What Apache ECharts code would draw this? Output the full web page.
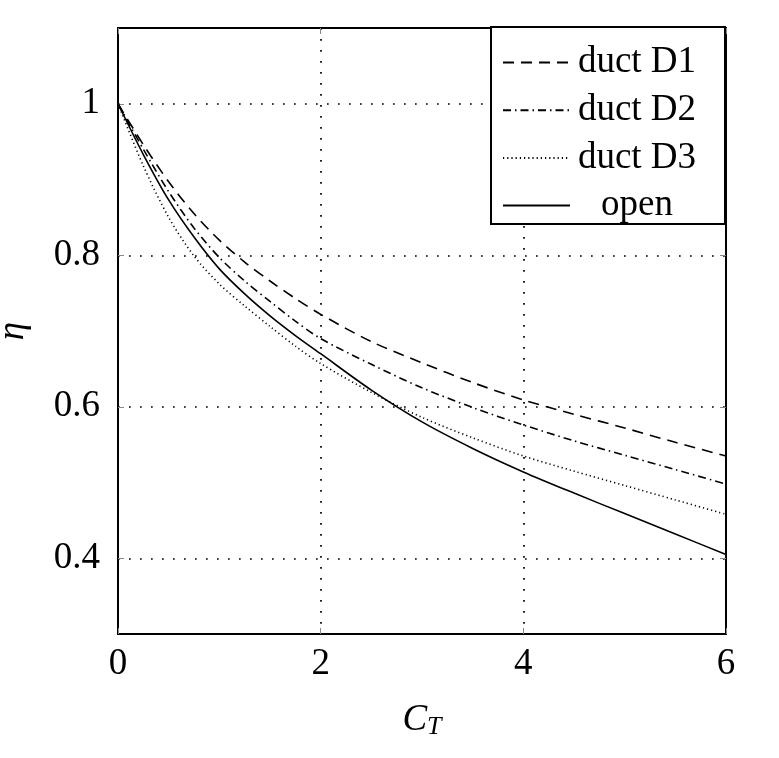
<!DOCTYPE html>
<html>
<head>
<meta charset="utf-8">
<script src="https://cdn.jsdelivr.net/npm/echarts@6.0.0/dist/echarts.min.js"></script>
<style>
html, body { margin: 0; padding: 0; background: #fff; }
#chart { width: 779px; height: 758px; }
</style>
</head>
<body>
<div id="chart"></div>
<script>
// thrust coefficient C_T and efficiency eta
var ct = [0, 0.25, 0.5, 0.75, 1, 1.25, 1.5, 1.75, 2, 2.5, 3, 3.5, 4, 4.5, 5, 5.5, 6];
var ductD1 = [1.0, 0.946, 0.897, 0.855, 0.820, 0.791, 0.766, 0.743, 0.722, 0.686, 0.658, 0.632, 0.609, 0.590, 0.572, 0.553, 0.535];
var ductD2 = [1.0, 0.940, 0.884, 0.836, 0.797, 0.766, 0.739, 0.713, 0.690, 0.656, 0.625, 0.599, 0.576, 0.555, 0.536, 0.517, 0.498];
var ductD3 = [1.0, 0.918, 0.850, 0.799, 0.762, 0.733, 0.706, 0.680, 0.657, 0.619, 0.586, 0.559, 0.535, 0.515, 0.496, 0.477, 0.458];
var openRotor = [1.0, 0.933, 0.873, 0.824, 0.782, 0.749, 0.720, 0.694, 0.670, 0.622, 0.580, 0.545, 0.514, 0.486, 0.459, 0.432, 0.405];
var yTicks = [0.4, 0.6, 0.8, 1.0];

var serif = '"Liberation Serif", "Times New Roman", serif';

function pairs(ys) {
    return ct.map(function (x, i) { return [x, ys[i]]; });
}

function line(name, ys, dash) {
    return {
        name: name,
        type: 'line',
        data: pairs(ys),
        smooth: 0.3,
        symbol: 'none',
        lineStyle: { color: '#000', width: 1.6, type: dash },
        itemStyle: { color: '#000' },
        z: 5
    };
}

var frame = { show: true, onZero: false, lineStyle: { color: '#000', width: 2 } };
var tick = { show: true, inside: true, length: 6, lineStyle: { color: '#888', width: 1 } };
var grid = { show: true, lineStyle: { color: '#000', width: 1.7, type: [1.7, 9.3] } };

var chart = echarts.init(document.getElementById('chart'));
chart.setOption({
    animation: false,
    backgroundColor: '#fff',
    grid: { left: 118, right: 53, top: 28, bottom: 124, outerBoundsMode: 'none', containLabel: false },
    xAxis: [{
        type: 'value', min: 0, max: 6, interval: 2,
        axisLine: frame,
        axisTick: tick,
        splitLine: grid,
        axisLabel: { color: '#000', fontSize: 37, fontFamily: serif, margin: 12 },
        name: '{c|C}{t|T}',
        nameLocation: 'middle',
        nameGap: 66,
        nameTextStyle: {
            rich: {
                c: { fontSize: 37, fontStyle: 'italic', fontFamily: serif, color: '#000' },
                t: { fontSize: 26, fontStyle: 'italic', fontFamily: serif, color: '#000', padding: [14, 0, 0, 0] }
            }
        }
    }, {
        type: 'value', min: 0, max: 6, interval: 2, position: 'top',
        axisLine: frame, axisTick: tick, axisLabel: { show: false }, splitLine: { show: false }
    }],
    yAxis: [{
        type: 'value', min: 0.3, max: 1.1,
        axisLine: frame,
        axisTick: Object.assign({ customValues: yTicks }, tick),
        splitLine: grid,
        axisLabel: {
            customValues: yTicks,
            color: '#000', fontSize: 37, fontFamily: serif, margin: 18,
            formatter: function (v) { return v >= 0.999 ? '1' : v.toFixed(1); }
        },
        name: 'η',
        nameLocation: 'middle',
        nameGap: 86,
        nameTextStyle: { fontSize: 37, fontStyle: 'italic', fontFamily: serif, color: '#000' }
    }, {
        type: 'value', min: 0.3, max: 1.1, position: 'right',
        axisLine: frame,
        axisTick: Object.assign({ customValues: yTicks }, tick),
        axisLabel: { show: false }, splitLine: { show: false }
    }],
    legend: {
        left: 491, top: 27,
        orient: 'vertical',
        padding: [17, 26, 0, 11],
        itemGap: 10.7,
        itemWidth: 67,
        itemHeight: 14,
        borderColor: '#000', borderWidth: 2,
        backgroundColor: '#fff',
        itemStyle: { color: 'rgba(0,0,0,0)', borderWidth: 0, opacity: 0 },
        formatter: function (n) { return '{a|' + n + '}'; },
        textStyle: {
            rich: { a: { width: 124, align: 'center', fontSize: 37, lineHeight: 36, fontFamily: serif, color: '#000' } }
        },
        data: ['duct D1', 'duct D2', 'duct D3', 'open']
    },
    series: [
        line('duct D1', ductD1, [11, 7]),
        line('duct D2', ductD2, [8, 4, 1.5, 4]),
        line('duct D3', ductD3, [1.2, 3]),
        line('open', openRotor, 'solid')
    ]
});
</script>
</body>
</html>
